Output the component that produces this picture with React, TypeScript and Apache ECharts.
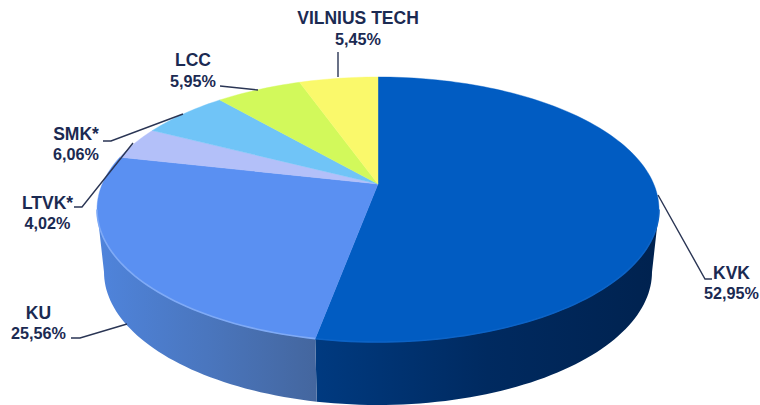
import React, { useEffect, useRef } from "react";
import * as echarts from "echarts";

const names = ["KVK", "KU", "LTVK*", "SMK*", "LCC", "VILNIUS TECH"];
const shares = [52.95, 25.56, 4.02, 6.06, 5.95, 5.45];
const topColors = ["#015CC2", "#5A90F2", "#B3C0F9", "#70C4F7", "#D2F95B", "#FAF96B"];
const rimColors = ["#0C63C6", "#7FAAF6", "#B3C0F9", "#70C4F7", "#D2F95B", "#FAF96B"];
// rim gradient stops, left to right
const sideStops: string[][] = [
  ["#003A80", "#002A60", "#00224F"],
  ["#4F84DC", "#4A76BE", "#44669E"],
  ["#8A94C0", "#8A94C0", "#8A94C0"],
  ["#5698C0", "#5698C0", "#5698C0"],
  ["#A2C046", "#A2C046", "#A2C046"],
  ["#C0C052", "#C0C052", "#C0C052"],
];

// layout of the pie in pixels
const CX = 378;
const TOP_CY = 209.5;
const TOP_RX = 281;
const TOP_RY = 132.5;
const BOT_CY = 272;
const BOT_RX = 274;
const BOT_RY = 133;
const K = 0.192; // perspective shift of the apex

// layout of labels in pixels: text centre x, first line y, second line y
const labelPos: number[][] = [
  [731.5, 273, 293],
  [38.5, 313, 333],
  [47.5, 203, 223],
  [76, 134, 154],
  [193, 60, 81],
  [358, 18, 39],
];
const leaders: number[][][] = [
  [[658, 195], [705, 279], [712, 279]],
  [[71, 338], [80, 338], [127, 324]],
  [[74, 207], [82, 207], [133, 143]],
  [[103, 141], [111, 141], [183, 114]],
  [[220, 86], [258, 90]],
  [[338, 52], [338, 77]],
];

const total = shares.reduce((a, b) => a + b, 0);
const cum: number[] = [];
shares.reduce((a, b, i) => {
  cum[i] = a;
  return a + b;
}, 0);

// projected unit-ellipse coordinates of the circle point at clockwise angle t from the top
const project = (t: number) => {
  const x = Math.sin(t);
  const y = Math.cos(t);
  const d = 1 + K * y;
  return [(x * Math.sqrt(1 - K * K)) / d, (y + K) / d];
};
const sliceAngles = (i: number) => [
  (cum[i] / total) * Math.PI * 2,
  ((cum[i] + shares[i]) / total) * Math.PI * 2,
];
const onTop = (p: number[]) => [CX + TOP_RX * p[0], TOP_CY - TOP_RY * p[1]];
const onBot = (p: number[]) => [CX + BOT_RX * p[0], BOT_CY - BOT_RY * p[1]];
const arc = (a: number, b: number) => {
  const n = Math.max(2, Math.ceil(((b - a) / (Math.PI * 2)) * 240));
  const out: number[][] = [];
  for (let s = 0; s <= n; s++) out.push(project(a + ((b - a) * s) / n));
  return out;
};
// front part of the rim: where the projected point lies below the ellipse's centre line
const frontRange = (a: number, b: number) => {
  const f0 = Math.acos(-K);
  const f1 = Math.PI * 2 - f0;
  const s = Math.max(a, f0);
  const e = Math.min(b, f1);
  return e > s ? [s, e] : null;
};

const sideItem = (params: any) => {
  const i = params.dataIndex;
  const [a, b] = sliceAngles(i);
  const r = frontRange(a, b);
  if (!r) return { type: "group", children: [] };
  const pts = arc(r[0], r[1]);
  const poly = [...pts.map(onTop), ...pts.slice().reverse().map(onBot)];
  const stops = sideStops[i];
  return {
    type: "polygon",
    shape: { points: poly },
    style: {
      fill: new echarts.graphic.LinearGradient(0, 0, 1, 0, [
        { offset: 0, color: stops[0] },
        { offset: 0.5, color: stops[1] },
        { offset: 1, color: stops[2] },
      ]),
      stroke: "none",
    },
  };
};

const topItem = (params: any) => {
  const i = params.dataIndex;
  const [a, b] = sliceAngles(i);
  const apex = onTop([0, K]);
  const poly = [apex, ...arc(a, b).map(onTop)];
  const children: any[] = [
    { type: "polygon", shape: { points: poly }, style: { fill: topColors[i], stroke: topColors[i], lineWidth: 0.4 } },
  ];
  const r = frontRange(a, b);
  if (r) {
    children.push({
      type: "polyline",
      shape: { points: arc(r[0], r[1]).map(onTop) },
      style: { fill: "none", stroke: rimColors[i], lineWidth: 1.6 },
    });
  }
  return { type: "group", children };
};

const labelItem = (params: any) => {
  const i = params.dataIndex;
  const [x, y1, y2] = labelPos[i];
  const share = shares[i].toFixed(2).replace(".", ",") + "%";
  const font = { fontFamily: "Liberation Sans", fontWeight: "bold", fill: "#1B2A52", align: "center", verticalAlign: "middle" };
  return {
    type: "group",
    children: [
      {
        type: "polyline",
        shape: { points: leaders[i] },
        style: { fill: "none", stroke: "#2A3554", lineWidth: 1.4 },
      },
      { type: "text", x, y: y1, style: { ...font, fontSize: 17.5, text: names[i] } },
      { type: "text", x, y: y2, style: { ...font, fontSize: 16.2, text: share } },
    ],
  };
};

export default function App() {
  const ref = useRef<HTMLDivElement>(null);
  useEffect(() => {
    const chart = echarts.init(ref.current!, undefined, { renderer: "svg" });
    const data = shares.map((v, i) => ({ name: names[i], value: v }));
    chart.setOption({
      animation: false,
      backgroundColor: "#ffffff",
      series: [
        { type: "custom", coordinateSystem: "none", renderItem: sideItem, data, silent: true, z: 1 },
        { type: "custom", coordinateSystem: "none", renderItem: topItem, data, silent: true, z: 2 },
        { type: "custom", coordinateSystem: "none", renderItem: labelItem, data, silent: true, z: 3 },
      ],
    });
    return () => chart.dispose();
  }, []);
  return <div ref={ref} style={{ position: "absolute", left: 0, top: 0, width: 760, height: 405 }} />;
}
